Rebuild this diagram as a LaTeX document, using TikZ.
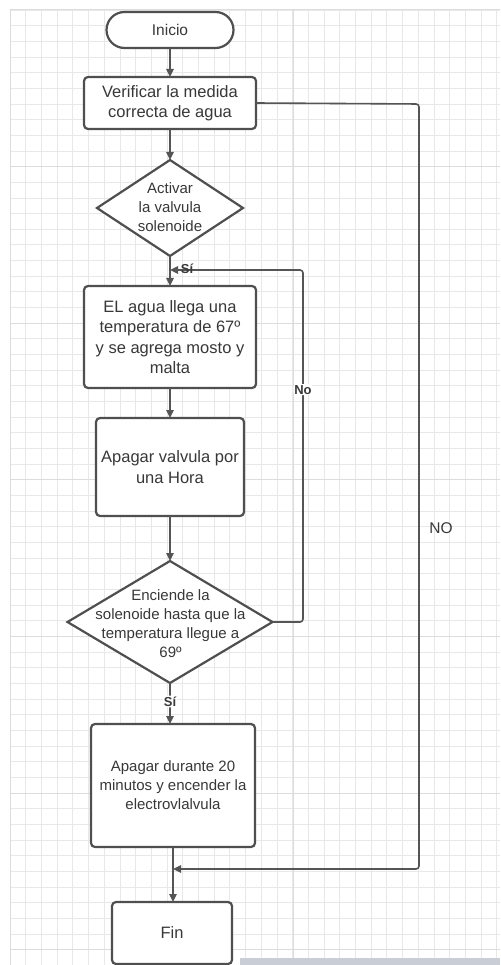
\documentclass[tikz,border=0pt]{standalone}
\usepackage{fontspec}
\setmainfont{Liberation Sans}
\usetikzlibrary{shapes.geometric,arrows.meta}
\definecolor{gridminor}{HTML}{E8E8E8}
\definecolor{gridmajor}{HTML}{DCDCDC}
\definecolor{linec}{HTML}{555555}
\definecolor{boxc}{HTML}{4F4F4F}
\definecolor{textc}{HTML}{383838}
\definecolor{barc}{HTML}{C9CDD5}
\tikzset{
  box/.style={draw=boxc, line width=2.2pt, rounded corners=4pt, fill=white,
    inner sep=0pt, outer sep=0pt, align=center, text=textc},
  terminal/.style={box, rounded corners=18pt},
  dia/.style={draw=boxc, line width=2.2pt, shape=diamond, fill=white, inner sep=0pt, outer sep=0pt},
  dtext/.style={align=center, text=textc, font=\fontsize{15}{19}\selectfont, inner sep=0pt},
  btext/.style={font=\fontsize{16.5}{20.5}\selectfont},
  conn/.style={draw=linec, line width=1.6pt, rounded corners=3pt},
  arr/.style={conn, -{Triangle[length=8pt,width=7.5pt]}},
  lbl/.style={text=textc, inner sep=1pt, font=\fontsize{13}{15}\selectfont\bfseries},
}
\begin{document}
\begin{tikzpicture}[x=1pt,y=-1pt]
\useasboundingbox (0,0) rectangle (500,965);
% background grid
\foreach \i in {0,...,31} {
  \draw[gridminor, line width=0.8pt] ({10+15.7*\i},10) -- ({10+15.7*\i},965);
}
\foreach \j in {0,...,60} {
  \draw[gridminor, line width=0.8pt] (10,{10+15.66*\j}) -- (500,{10+15.66*\j});
}
\foreach \j in {0,...,6} {
  \draw[gridmajor, line width=1pt] (10,{10+156.6*\j}) -- (500,{10+156.6*\j});
}
\draw[gridmajor, line width=1pt] (10,10) -- (10,965);
\draw[gridmajor, line width=1pt] (293,10) -- (293,965);
\fill[barc] (240,958) rectangle (500,965);

% nodes
\node[terminal, minimum width=127, minimum height=36, font=\fontsize{15.5}{19}\selectfont] (inicio) at (170,30) {Inicio};
\node[box, btext, minimum width=172, minimum height=52] (verif) at (170,103) {Verificar la medida\\correcta de agua};
\node[dia, minimum width=146, minimum height=96] (d1) at (170,208) {};
\node[dtext] (d1t) at (170,207) {Activar\\la valvula\\solenoide};
\node[box, btext, minimum width=172, minimum height=102] (b2) at (170,337) {EL agua llega una\\temperatura de 67º\\y se agrega mosto y\\malta};
\node[box, btext, minimum width=148, minimum height=98] (b3) at (170,467) {Apagar valvula por\\una Hora};
\node[dia, minimum width=205, minimum height=122] (d2) at (170,622) {};
\node[dtext] (d2t) at (170.5,624) {Enciende la\\solenoide hasta que la\\temperatura llegue a\\69º};
\node[box, minimum width=164, minimum height=123, font=\fontsize{15}{19}\selectfont] (b4) at (173,785.5) {Apagar durante 20\\minutos y encender la\\electrovlalvula};
\node[box, btext, minimum width=120, minimum height=62] (fin) at (172,933) {Fin};

% junctions and bends
\coordinate (j1) at (170,270);
\coordinate (j2) at (173,869);
\coordinate (loopc) at (303,622);
\coordinate (noc) at (419,104);

% connectors
\draw[arr] (inicio.south) -- (verif.north);
\draw[arr] (verif.south) -- (d1.north);
\draw[arr] (d1.south) -- (b2.north);
\draw[arr] (b2.south) -- (b3.north);
\draw[arr] (b3.south) -- (d2.north);
\draw[arr] (d2.south) -- node[lbl, fill=white, pos=0.45] {Sí} (d2.south |- b4.north);
\draw[arr] (b4.south) -- (b4.south |- fin.north);
\draw[arr] (d2.east) -- (loopc) -- node[lbl, fill=white, pos=0.66] {No} (loopc |- j1) -- (j1);
\draw[arr] (verif.east) -- (noc) -- (noc |- j2) -- (j2);

% labels
\node[lbl] (si1) at (187,268.5) {Sí};
\node[text=textc, font=\fontsize{15.5}{19}\selectfont] (nolbl) at (441,528) {NO};
\end{tikzpicture}
\end{document}
